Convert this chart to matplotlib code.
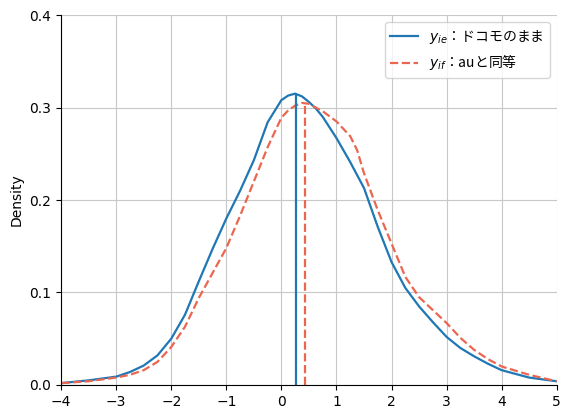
import numpy as np
import matplotlib
matplotlib.use("Agg")
import matplotlib.pyplot as plt

plt.rcParams['font.family'] = ['DejaVu Sans', 'Noto Sans CJK JP']
plt.rcParams['mathtext.fontset'] = 'dejavusans'

# density values
x = [-4, -3.5, -3, -2.75, -2.5, -2.25, -2, -1.75, -1.5, -1.25, -1, -0.75,
     -0.5, -0.25, 0, 0.125, 0.25, 0.375, 0.5, 0.625, 0.75, 1, 1.25, 1.375,
     1.5, 1.75, 2, 2.25, 2.5, 2.75, 3, 3.25, 3.5, 3.75, 4, 4.5, 5]
y_ie = [0.002, 0.005, 0.009, 0.014, 0.021, 0.032, 0.050, 0.076, 0.112, 0.147,
        0.180, 0.210, 0.243, 0.284, 0.308, 0.313, 0.315, 0.312, 0.306, 0.299,
        0.290, 0.267, 0.241, 0.227, 0.213, 0.171, 0.133, 0.105, 0.085, 0.068,
        0.052, 0.040, 0.031, 0.023, 0.016, 0.008, 0.004]
y_if = [0.002, 0.004, 0.008, 0.011, 0.016, 0.025, 0.041, 0.063, 0.094, 0.121,
        0.148, 0.183, 0.220, 0.257, 0.289, 0.297, 0.302, 0.305, 0.304, 0.300,
        0.296, 0.285, 0.269, 0.254, 0.229, 0.189, 0.153, 0.117, 0.095, 0.081,
        0.067, 0.051, 0.038, 0.028, 0.020, 0.011, 0.004]
mean_ie, top_ie = 0.26, 0.315
mean_if, top_if = 0.42, 0.305

labels = ["$y_{ie}$：ドコモのまま", "$y_{if}$：auと同等"]
c_blue = "#1f77b4"
c_red = "#eb6650"

fig = plt.figure(figsize=(5.71, 4.18), dpi=100)
ax = fig.add_axes([0.107, 0.079, 0.868, 0.885])

ax.plot(x, y_ie, color=c_blue, lw=1.6, label=labels[0])
ax.plot(x, y_if, color=c_red, lw=1.6, ls="--", label=labels[1])
ax.vlines(mean_ie, 0, top_ie, color=c_blue, lw=1.6)
ax.vlines(mean_if, 0, top_if, color=c_red, lw=1.6, ls="--")

ax.set_xlim(-4, 5)
ax.set_ylim(0, 0.4)
ax.set_xticks(range(-4, 6))
ax.set_yticks([0.0, 0.1, 0.2, 0.3, 0.4])
ax.set_ylabel("Density")
ax.grid(True, color="#c8c8c8", lw=0.8)
ax.spines["top"].set_visible(False)
ax.spines["right"].set_visible(False)
ax.legend(loc="upper right",
          prop={"family": ["Noto Sans CJK JP", "DejaVu Sans"], "size": 10})

fig.savefig("out.png", dpi=100)
